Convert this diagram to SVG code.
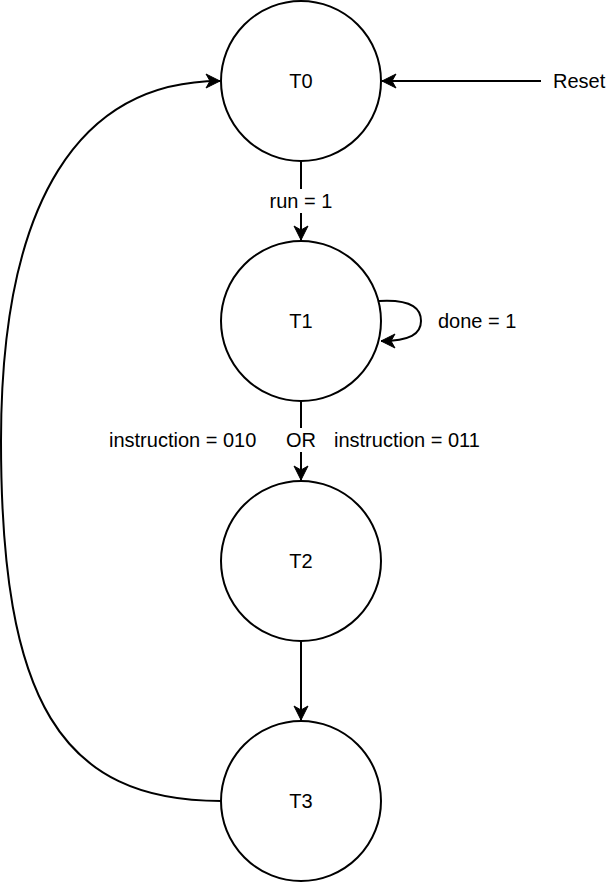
<svg xmlns="http://www.w3.org/2000/svg" width="610" height="882" viewBox="0 0 610 882">
<style>
.node{fill:#fff;stroke:#000;stroke-width:2}
.lbl{font-family:"Liberation Sans",Arial,sans-serif;font-size:20px;fill:#000;text-anchor:middle;dominant-baseline:central}
.elbl{font-family:"Liberation Sans",Arial,sans-serif;font-size:20px;fill:#000;dominant-baseline:central}
.edge{fill:none;stroke:#000;stroke-width:2}
</style>
<defs>
<marker id="arr" viewBox="0 0 16 16" refX="15" refY="8" markerWidth="16" markerHeight="16" markerUnits="userSpaceOnUse" orient="auto">
<path d="M15,8 L1,1 L5,8 L1,15 Z" fill="#000" stroke="#000" stroke-width="1"/>
</marker>
</defs>
<rect width="610" height="882" fill="#fff"/>
<g id="connectors">
<path class="edge" d="M541 81 L382 81" marker-end="url(#arr)"/>
<path class="edge" d="M301 161 L301 240" marker-end="url(#arr)"/>
<path class="edge" d="M301 401 L301 480" marker-end="url(#arr)"/>
<path class="edge" d="M301 641 L301 720" marker-end="url(#arr)"/>
<path class="edge" d="M379 301 C414 299 421 310 421 321 C421 334 410 341 381 341" marker-end="url(#arr)"/>
<path class="edge" d="M221 801 C60 801 1 700 1 441 C1 200 80 81 220 81" marker-end="url(#arr)"/>
<rect x="264" y="189" width="74" height="24" fill="#fff"/>
<text class="elbl" x="301" y="201" text-anchor="middle">run = 1</text>
<text class="elbl" x="438" y="321">done = 1</text>
<rect x="106" y="428" width="390" height="24" fill="#fff"/>
<text class="elbl" y="440"><tspan x="109">instruction = 010</tspan><tspan x="286">OR</tspan><tspan x="334">instruction = 011</tspan></text>
<text class="elbl" x="553" y="81">Reset</text>
</g>
<g id="T0"><circle class="node" cx="301" cy="81" r="80"/><text class="lbl" x="301" y="81">T0</text></g>
<g id="T1"><circle class="node" cx="301" cy="321" r="80"/><text class="lbl" x="301" y="321">T1</text></g>
<g id="T2"><circle class="node" cx="301" cy="561" r="80"/><text class="lbl" x="301" y="561">T2</text></g>
<g id="T3"><circle class="node" cx="301" cy="801" r="80"/><text class="lbl" x="301" y="801">T3</text></g>
</svg>
